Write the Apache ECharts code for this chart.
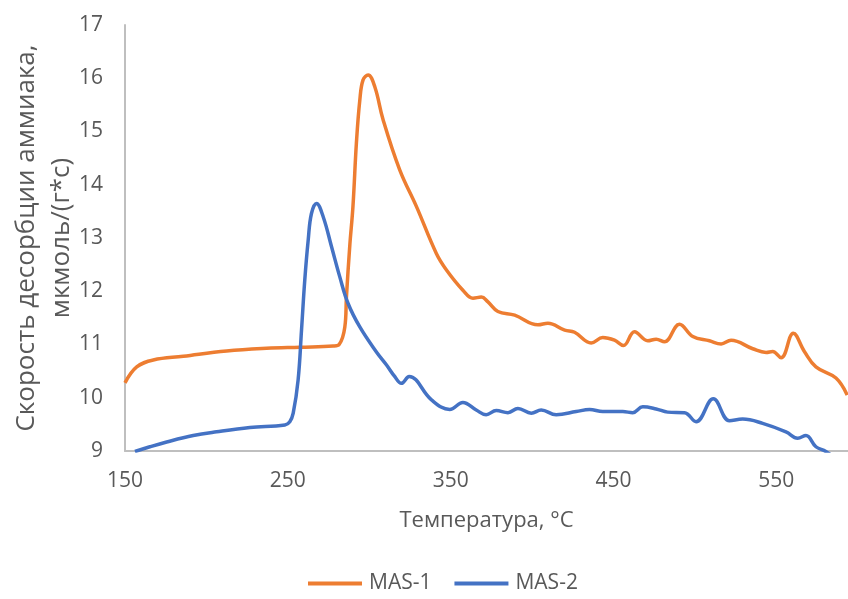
<!DOCTYPE html>
<html>
<head>
<meta charset="utf-8">
<script src="https://cdn.jsdelivr.net/npm/echarts@6/dist/echarts.min.js"></script>
<style>html,body{margin:0;padding:0;background:#fff}#c{width:848px;height:599px}</style>
</head>
<body>
<div id="c"></div>
<script>
const xTicks = [150, 250, 350, 450, 550];
const seriesNames = ['MAS-1', 'MAS-2'];
const mas1T = [150, 157.2, 167.4, 185.8, 212.4, 236.9, 257.4, 277.8, 281.5, 285, 286, 288, 290, 292.1, 294.2, 296.2, 299.3, 303.4, 308.5, 318.7, 329, 341.2, 347.4, 357.5, 363.7, 368.8, 372.9, 379, 389.3, 403.6, 409.7, 420, 426.1, 436.3, 443.4, 450.6, 456.1, 462.9, 471, 476.2, 481.3, 490.5, 498.7, 508.9, 516.1, 522.2, 535.5, 543.7, 547.7, 552.9, 560.4, 567.2, 574.3, 586.6, 593.5];
const mas1V = [10.28, 10.58, 10.71, 10.78, 10.88, 10.93, 10.95, 10.97, 11.0, 11.33, 11.9, 12.84, 13.6, 14.78, 15.59, 15.97, 16.06, 15.84, 15.22, 14.28, 13.59, 12.71, 12.4, 12.02, 11.87, 11.89, 11.8, 11.62, 11.55, 11.37, 11.4, 11.27, 11.23, 11.03, 11.13, 11.08, 10.98, 11.24, 11.07, 11.1, 11.05, 11.38, 11.15, 11.07, 11.01, 11.08, 10.92, 10.85, 10.87, 10.75, 11.21, 10.87, 10.58, 10.37, 10.05];
const mas2T = [156.1, 165.3, 175.6, 191.9, 206.3, 226.7, 248.2, 251.2, 253.3, 256.3, 258.4, 260.4, 262.5, 264.5, 267.6, 271.7, 276.8, 281.9, 287, 294.2, 304.4, 310.5, 315.6, 319.7, 324.5, 338.2, 349.4, 357.5, 365.7, 371.8, 378, 385.2, 391.3, 399.5, 405.6, 414.8, 427.1, 435.3, 443.4, 455.7, 461.8, 468, 476.2, 483.3, 493.6, 500.7, 511.3, 521.2, 529.3, 541.6, 555.9, 563.1, 568.2, 574.3, 580.4, 594];
const mas2V = [8.99, 9.08, 9.17, 9.29, 9.36, 9.44, 9.49, 9.55, 9.71, 10.33, 11.27, 12.21, 12.96, 13.46, 13.65, 13.4, 12.84, 12.27, 11.77, 11.33, 10.86, 10.62, 10.4, 10.27, 10.4, 9.96, 9.78, 9.91, 9.77, 9.68, 9.76, 9.72, 9.8, 9.71, 9.77, 9.68, 9.74, 9.78, 9.74, 9.74, 9.72, 9.83, 9.79, 9.73, 9.72, 9.55, 9.98, 9.57, 9.6, 9.52, 9.36, 9.24, 9.29, 9.08, 8.99, 8.7];

const pair = (t, v) => t.map((x, i) => [x, v[i]]);
const font = 'Open Sans, Noto Sans, sans-serif';
const chart = echarts.init(document.getElementById('c'), null, {renderer: 'canvas'});
chart.setOption({
  animation: false,
  backgroundColor: '#fff',
  grid: {left: 125, right: 0, top: 25, bottom: 148, containLabel: false, outerBoundsMode: 'none'},
  xAxis: {
    type: 'value', min: 150, max: 594,
    name: 'Температура, °C', nameLocation: 'middle', nameGap: 59, nameMoveOverlap: false,
    nameTextStyle: {color: '#595959', fontSize: 22, fontFamily: font},
    axisLine: {show: true, lineStyle: {color: '#BFBFBF', width: 2}},
    axisTick: {show: false, customValues: xTicks},
    axisLabel: {customValues: xTicks, color: '#595959', fontSize: 21, fontFamily: font, margin: 20},
    splitLine: {show: false}
  },
  yAxis: {
    type: 'value', min: 9, max: 17, interval: 1,
    name: 'Скорость десорбции аммиака,\nмкмоль/(г*с)', nameLocation: 'middle', nameGap: 46, nameMoveOverlap: false,
    nameTextStyle: {color: '#595959', fontSize: 26, fontFamily: font, lineHeight: 35},
    axisLine: {show: true, lineStyle: {color: '#BFBFBF', width: 2}},
    axisTick: {show: false},
    axisLabel: {color: '#595959', fontSize: 21, fontFamily: font, margin: 22},
    splitLine: {show: false}
  },
  legend: {
    bottom: 0, left: 303, itemGap: 23, itemWidth: 54, itemHeight: 4, icon: 'rect',
    textStyle: {color: '#595959', fontSize: 21, fontFamily: font, padding: [0, 0, 0, 2]},
    data: seriesNames
  },
  series: [
    {name: seriesNames[0], type: 'line', data: pair(mas1T, mas1V), smooth: 0.4, showSymbol: false, clip: true,
     lineStyle: {color: '#ED7D31', width: 3.5}, itemStyle: {color: '#ED7D31'}},
    {name: seriesNames[1], type: 'line', data: pair(mas2T, mas2V), smooth: 0.4, showSymbol: false, clip: true,
     lineStyle: {color: '#4472C4', width: 3.5}, itemStyle: {color: '#4472C4'}}
  ]
});
</script>
</body>
</html>
